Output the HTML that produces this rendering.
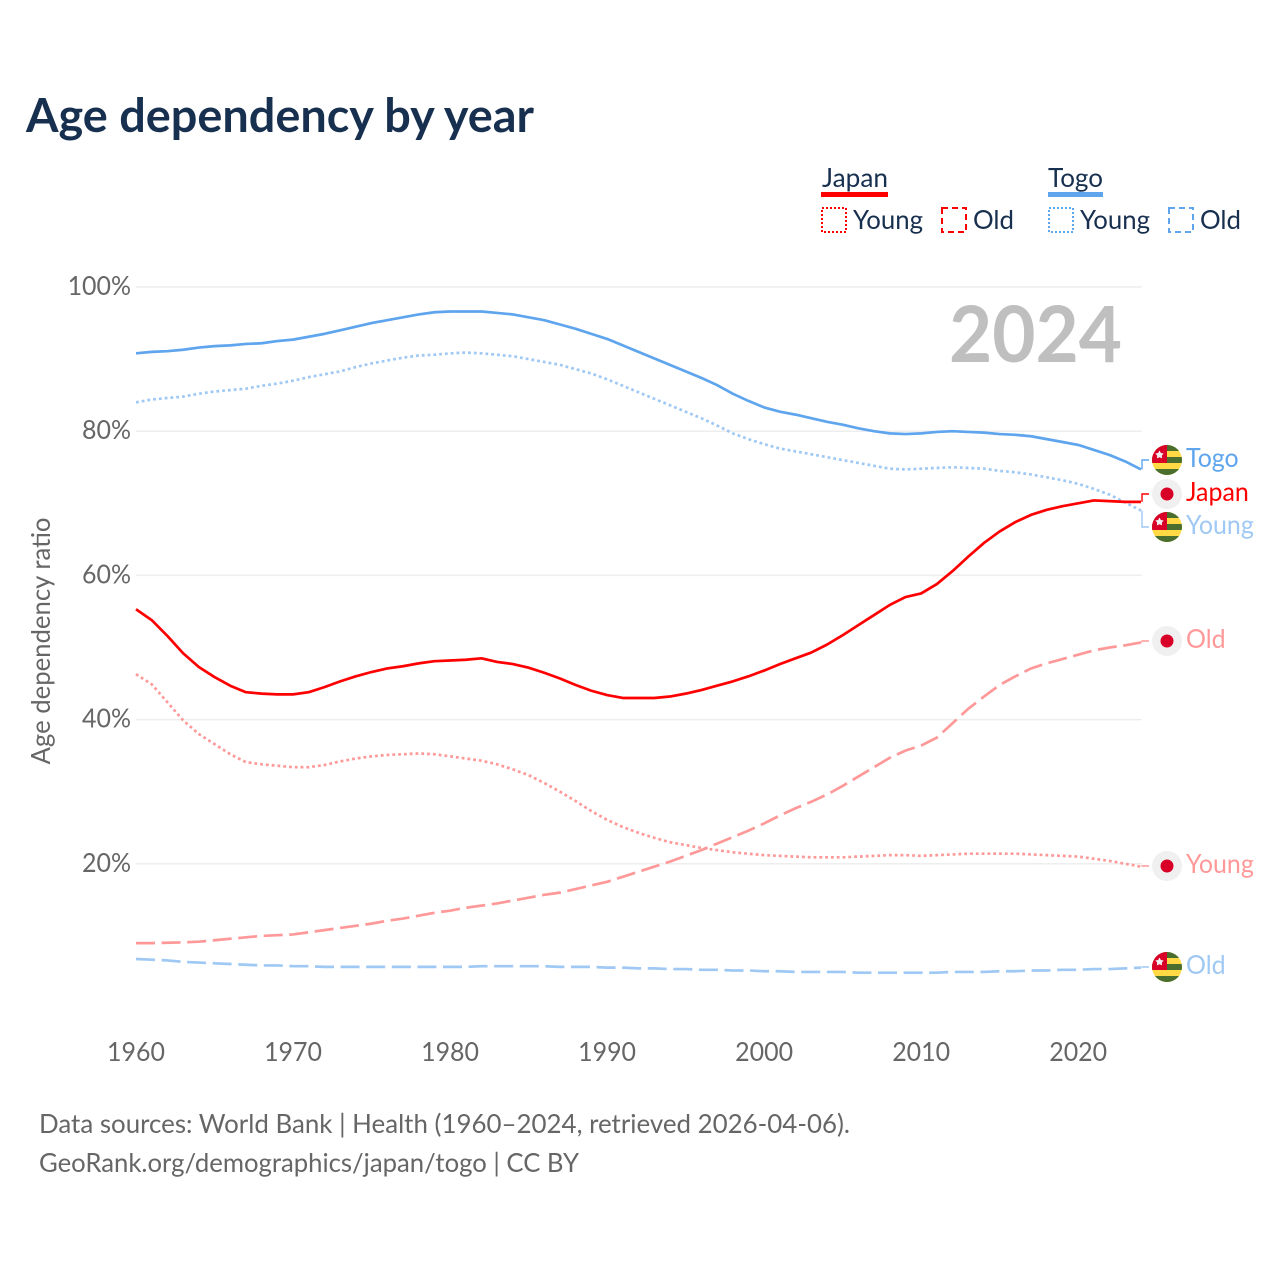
<!DOCTYPE html>
<html lang="en">
<head>
<meta charset="utf-8">
<title>Age dependency by year</title>
<style>
html,body{margin:0;padding:0;background:#fff;}
svg{display:block;}
text{font-family:"Lato","Carlito","Liberation Sans",sans-serif;}
</style>
</head>
<body>
<svg id="chart" xmlns="http://www.w3.org/2000/svg" width="1280" height="1280" viewBox="0 0 1280 1280">
  <rect x="0" y="0" width="1280" height="1280" fill="#fff"/>
  <defs>
    <clipPath id="flag-clip"><circle cx="0" cy="0" r="15"/></clipPath>
    <g id="togo-flag" clip-path="url(#flag-clip)">
      <rect x="-15" y="-15" width="30" height="30" fill="#ffda44"/>
      <rect x="-15" y="-15" width="30" height="6" fill="#496e2d"/>
      <rect x="-15" y="-3" width="30" height="6" fill="#496e2d"/>
      <rect x="-15" y="9" width="30" height="6" fill="#496e2d"/>
      <rect x="-15" y="-15" width="15" height="18" fill="#d80027"/>
      <polygon points="-7.5,-9.5 -6.1,-7 -3.3,-6.5 -5.2,-4.4 -4.9,-1.6 -7.5,-2.8 -10.1,-1.6 -9.8,-4.4 -11.7,-6.5 -8.9,-7" fill="#f0f0f0"/>
    </g>
    <g id="japan-flag">
      <circle cx="0" cy="0" r="15" fill="#f0f0f0"/>
      <circle cx="0" cy="0" r="6.5" fill="#d80027"/>
    </g>
  </defs>

  <text x="26" y="132" font-size="47" font-weight="700" fill="#18304f" textLength="508" lengthAdjust="spacingAndGlyphs">Age dependency by year</text>

  <g font-size="26" fill="#18304f">
    <text x="822" y="187" textLength="66" lengthAdjust="spacingAndGlyphs">Japan</text>
    <rect x="821" y="192" width="67" height="5" fill="#ff0000"/>
    <rect x="822" y="208" width="24" height="24" fill="none" stroke="#ff0000" stroke-width="2" stroke-dasharray="2 2"/>
    <text x="853" y="229" textLength="70" lengthAdjust="spacingAndGlyphs">Young</text>
    <rect x="942" y="208" width="24" height="24" fill="none" stroke="#ff0000" stroke-width="2" stroke-dasharray="6 4"/>
    <text x="973" y="229" textLength="41" lengthAdjust="spacingAndGlyphs">Old</text>
    <text x="1048" y="187" textLength="55" lengthAdjust="spacingAndGlyphs">Togo</text>
    <rect x="1048" y="192" width="55" height="5" fill="#5ea5ee"/>
    <rect x="1049" y="208" width="24" height="24" fill="none" stroke="#5ea5ee" stroke-width="2" stroke-dasharray="2 2"/>
    <text x="1080" y="229" textLength="70" lengthAdjust="spacingAndGlyphs">Young</text>
    <rect x="1169" y="208" width="24" height="24" fill="none" stroke="#5ea5ee" stroke-width="2" stroke-dasharray="6 4"/>
    <text x="1200" y="229" textLength="41" lengthAdjust="spacingAndGlyphs">Old</text>
  </g>

  <g id="grid"></g>
  <g id="y-ticks"></g>
  <g id="x-ticks"></g>
  <text transform="translate(50,641) rotate(-90)" text-anchor="middle" font-size="26" fill="#666666" textLength="247" lengthAdjust="spacingAndGlyphs">Age dependency ratio</text>
  <text x="949" y="362" font-size="78" font-weight="700" fill="#bfbfbf" textLength="173" lengthAdjust="spacingAndGlyphs">2024</text>
  <g id="series"></g>
  <g id="end-labels"></g>

  <text x="39" y="1133" font-size="26" fill="#666666" textLength="811" lengthAdjust="spacingAndGlyphs">Data sources: World Bank | Health (1960–2024, retrieved 2026-04-06).</text>
  <text x="39" y="1172" font-size="26" fill="#666666" textLength="540" lengthAdjust="spacingAndGlyphs">GeoRank.org/demographics/japan/togo | CC BY</text>
</svg>
<script>
const startYear = 1960;
const yTickValues = [20, 40, 60, 80, 100];
const xTickValues = [1960, 1970, 1980, 1990, 2000, 2010, 2020];

const togoTotal = [90.8,91.0,91.1,91.3,91.6,91.8,91.9,92.1,92.2,92.5,92.7,93.1,93.5,94.0,94.5,95.0,95.4,95.8,96.2,96.5,96.6,96.6,96.6,96.4,96.2,95.8,95.4,94.8,94.2,93.5,92.8,91.9,91.0,90.1,89.2,88.3,87.4,86.4,85.2,84.2,83.3,82.7,82.3,81.8,81.3,80.9,80.4,80.0,79.7,79.6,79.7,79.9,80.0,79.9,79.8,79.6,79.5,79.3,78.9,78.5,78.1,77.4,76.7,75.8,74.7];
const togoYoung = [84.0,84.4,84.6,84.8,85.2,85.5,85.7,85.9,86.3,86.6,87.0,87.5,87.9,88.3,88.9,89.4,89.8,90.2,90.5,90.6,90.8,90.9,90.8,90.6,90.4,90.0,89.6,89.2,88.6,88.0,87.2,86.3,85.4,84.5,83.6,82.7,81.8,80.8,79.7,78.9,78.2,77.6,77.2,76.8,76.4,76.0,75.6,75.2,74.8,74.7,74.8,74.9,75.0,74.9,74.8,74.5,74.3,74.0,73.6,73.2,72.7,72.0,71.2,70.1,69.0];
const togoOld = [6.8,6.7,6.6,6.4,6.3,6.2,6.1,6.0,5.9,5.9,5.8,5.8,5.7,5.7,5.7,5.7,5.7,5.7,5.7,5.7,5.7,5.7,5.8,5.8,5.8,5.8,5.8,5.7,5.7,5.7,5.6,5.6,5.5,5.5,5.4,5.4,5.3,5.3,5.2,5.2,5.1,5.1,5.0,5.0,5.0,5.0,4.9,4.9,4.9,4.9,4.9,4.9,5.0,5.0,5.0,5.1,5.1,5.2,5.2,5.3,5.3,5.4,5.4,5.5,5.6];
const japanTotal = [55.3,53.8,51.6,49.2,47.3,45.9,44.7,43.8,43.6,43.5,43.5,43.8,44.5,45.3,46.0,46.6,47.1,47.4,47.8,48.1,48.2,48.3,48.5,48.0,47.7,47.2,46.5,45.7,44.8,44.0,43.4,43.0,43.0,43.0,43.2,43.6,44.1,44.7,45.3,46.0,46.8,47.7,48.5,49.3,50.4,51.7,53.1,54.5,55.9,57.0,57.5,58.8,60.6,62.6,64.5,66.1,67.4,68.4,69.1,69.6,70.0,70.4,70.3,70.2,70.2];
const japanYoung = [46.3,44.9,42.4,39.9,38.0,36.6,35.2,34.1,33.8,33.6,33.4,33.4,33.7,34.2,34.6,34.9,35.1,35.2,35.3,35.2,34.9,34.6,34.3,33.8,33.1,32.3,31.2,30.0,28.7,27.3,26.1,25.1,24.3,23.6,23.0,22.6,22.2,21.9,21.6,21.4,21.2,21.1,21.0,20.9,20.9,20.9,21.0,21.1,21.2,21.2,21.1,21.2,21.3,21.4,21.4,21.4,21.4,21.3,21.2,21.1,21.0,20.7,20.4,20.0,19.6];
const japanOld = [9.0,9.0,9.05,9.1,9.2,9.4,9.6,9.8,10.0,10.1,10.2,10.5,10.8,11.1,11.4,11.7,12.1,12.4,12.8,13.2,13.5,13.9,14.2,14.5,14.9,15.3,15.7,16.0,16.5,17.0,17.5,18.2,18.9,19.6,20.3,21.1,21.9,22.8,23.7,24.6,25.6,26.7,27.7,28.6,29.6,30.8,32.1,33.4,34.7,35.7,36.4,37.5,39.5,41.5,43.2,44.8,46.0,47.1,47.8,48.4,49.0,49.6,50.0,50.3,50.7];

const SVG_NS = 'http://www.w3.org/2000/svg';
const plotLeft = 136, plotRight = 1141, lastYear = 2024;
const y100 = 287, y0 = 1008;
function xScale(year) { return plotLeft + (year - startYear) * (plotRight - plotLeft) / (lastYear - startYear); }
function yScale(v) { return y0 - v * (y0 - y100) / 100; }
function make(tag, attrs, parent) {
  const el = document.createElementNS(SVG_NS, tag);
  for (const k in attrs) el.setAttribute(k, attrs[k]);
  parent.appendChild(el);
  return el;
}
function squeeze(t) {
  t.setAttribute('textLength', (t.getComputedTextLength() * 0.96).toFixed(1));
  t.setAttribute('lengthAdjust', 'spacingAndGlyphs');
}

const gridG = document.getElementById('grid');
const yG = document.getElementById('y-ticks');
yTickValues.forEach(function (v) {
  const line = make('line', {x1: plotLeft, x2: plotRight + 1, y1: yScale(v), y2: yScale(v), stroke: '#eeeeee', 'stroke-width': 1.5}, gridG);
  
  
  const t = make('text', {x: 131, y: yScale(v) + 8, 'text-anchor': 'end', 'font-size': 26, fill: '#666666'}, yG);
  t.textContent = v + '%';
  squeeze(t);
  
  
});

const xG = document.getElementById('x-ticks');
xTickValues.forEach(function (yr) {
  const t = make('text', {x: xScale(yr), y: 1061, 'text-anchor': 'middle', 'font-size': 26, fill: '#666666'}, xG);
  t.textContent = yr;
  squeeze(t);
  
  
});

function linePath(values) {
  return values.map(function (v, i) {
    return (i ? 'L' : 'M') + xScale(startYear + i).toFixed(2) + ' ' + yScale(v).toFixed(2);
  }).join(' ');
}

const seriesG = document.getElementById('series');
function drawSeries(values, color, dash, name) {
  const p = make('path', {d: linePath(values), fill: 'none', stroke: color, 'stroke-width': 2.7, 'stroke-linejoin': 'round'}, seriesG);
  if (dash) p.setAttribute('stroke-dasharray', dash);
  
  
}
drawSeries(japanOld, '#ff9999', '19 6.6', 'line-japan-old');
drawSeries(togoOld, '#9fc9f4', '19 6.6', 'line-togo-old');
drawSeries(japanYoung, '#ff9999', '2.8 3', 'line-japan-young');
drawSeries(togoYoung, '#9fc9f4', '2.8 3', 'line-togo-young');
drawSeries(togoTotal, '#5ea5ee', '', 'line-togo-total');
drawSeries(japanTotal, '#ff0000', '', 'line-japan-total');

const labelG = document.getElementById('end-labels');
function drawEnd(values, labelY, flag, text, color, lineColor, name) {
  const endY = yScale(values[values.length - 1]);
  const c = make('path', {d: 'M1142 ' + endY.toFixed(2) + ' L1142 ' + labelY + ' L1149 ' + labelY, fill: 'none', stroke: lineColor, 'stroke-width': 1.4}, labelG);
  
  
  const u = make('use', {href: '#' + flag, transform: 'translate(1167,' + labelY + ')'}, labelG);
  
  
  const t = make('text', {x: 1186, y: labelY + 7, 'font-size': 26, fill: color}, labelG);
  t.textContent = text;
  squeeze(t);
  
  
}
drawEnd(togoTotal, 460, 'togo-flag', 'Togo', '#5ea5ee', '#5ea5ee', 'togo-total');
drawEnd(japanTotal, 494, 'japan-flag', 'Japan', '#ff0000', '#ff0000', 'japan-total');
drawEnd(togoYoung, 527, 'togo-flag', 'Young', '#9fc9f4', '#9fc9f4', 'togo-young');
drawEnd(japanOld, 641, 'japan-flag', 'Old', '#ff9999', '#ff9999', 'japan-old');
drawEnd(japanYoung, 866, 'japan-flag', 'Young', '#ff9999', '#ff9999', 'japan-young');
drawEnd(togoOld, 967, 'togo-flag', 'Old', '#9fc9f4', '#9fc9f4', 'togo-old');
</script>
</body>
</html>
